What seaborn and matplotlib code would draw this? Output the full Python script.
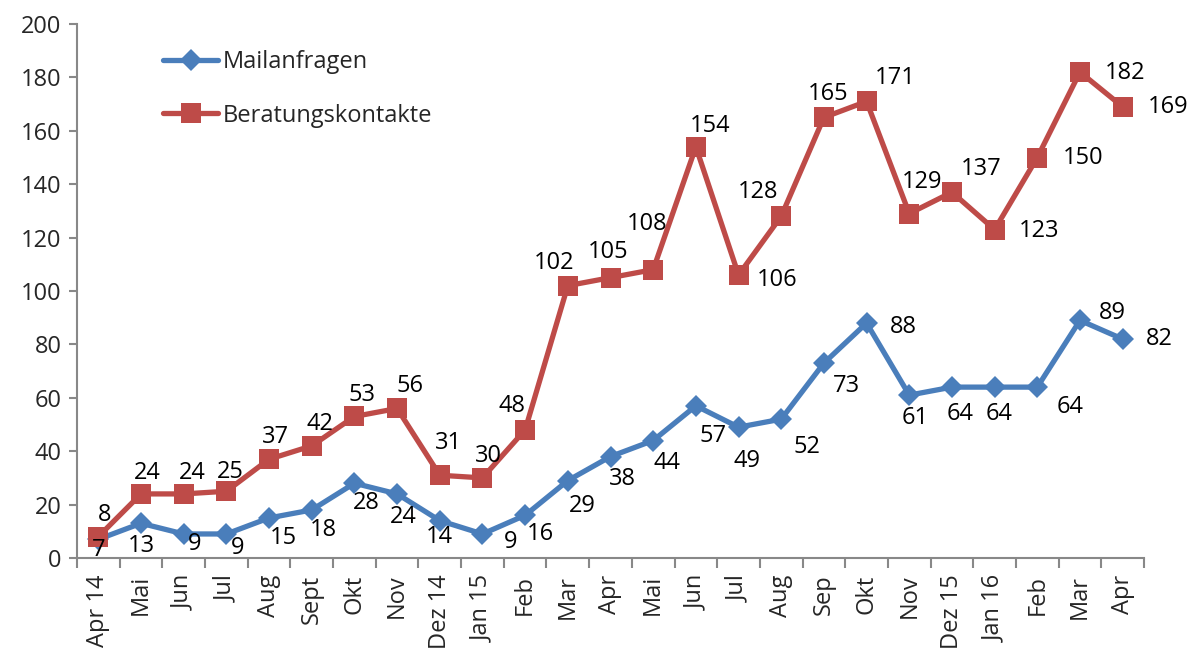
import matplotlib
matplotlib.use("Agg")
import matplotlib.pyplot as plt
import seaborn as sns
import pandas as pd
import numpy as np

categories = ["Apr 14", "Mai", "Jun", "Jul", "Aug", "Sept", "Okt", "Nov", "Dez 14", "Jan 15",
              "Feb", "Mar", "Apr", "Mai", "Jun", "Jul", "Aug", "Sep", "Okt", "Nov",
              "Dez 15", "Jan 16", "Feb", "Mar", "Apr"]
mail = [7, 13, 9, 9, 15, 18, 28, 24, 14, 9, 16, 29, 38, 44, 57, 49, 52, 73, 88, 61, 64, 64, 64, 89, 82]
berat = [8, 24, 24, 25, 37, 42, 53, 56, 31, 30, 48, 102, 105, 108, 154, 106, 128, 165, 171, 129,
         137, 123, 150, 182, 169]

# label offsets in pixels (dx, dy) relative to each point
mail_off = [(0, -11), (0, -23), (11, -10), (11, -14), (14, -20), (12, -20), (12, -20), (6, -23),
            (0, -16), (28, -8), (15, -19), (14, -25), (12, -22), (14, -22), (17, -30), (8, -34),
            (26, -28), (23, -23), (37, -4), (6, -23), (8, -27), (5, -27), (33, -20), (32, 7), (37, 0)]
berat_off = [(6, 22), (6, 21), (9, 21), (4, 19), (6, 22), (8, 22), (8, 21), (13, 22),
             (9, 32), (6, 22), (-13, 24), (-14, 23), (-2, 26), (-6, 46), (14, 21), (39, -5),
             (-23, 24), (4, 23), (29, 23), (13, 32), (29, 23), (44, -1), (46, 0), (45, -1), (45, 0)]

df = pd.DataFrame({"x": np.arange(len(categories)), "Mailanfragen": mail, "Beratungskontakte": berat})

sns.set_style("white")
plt.rcParams["font.family"] = ["Open Sans", "DejaVu Sans"]

fig = plt.figure(figsize=(11.99, 6.48), dpi=100)
ax = fig.add_axes([77 / 1199, (648 - 558) / 648, (1144 - 77) / 1199, (558 - 24) / 648])

blue = "#4A7EBB"
red = "#BE4B48"
sns.lineplot(data=df, x="x", y="Mailanfragen", ax=ax, color=blue, lw=3.8, marker="D",
             markersize=11.5, markeredgewidth=0, label="Mailanfragen")
sns.lineplot(data=df, x="x", y="Beratungskontakte", ax=ax, color=red, lw=3.8, marker="s",
             markersize=14, markeredgewidth=0, label="Beratungskontakte")

fs = 17
for i, (v, off) in enumerate(zip(mail, mail_off)):
    ax.annotate(str(v), (i, v), xytext=off, textcoords="offset pixels", ha="center", va="center",
                fontsize=fs, color="black")
for i, (v, off) in enumerate(zip(berat, berat_off)):
    ax.annotate(str(v), (i, v), xytext=off, textcoords="offset pixels", ha="center", va="center",
                fontsize=fs, color="black")

ax.set_xlim(-0.5, len(categories) - 0.5)
ax.set_ylim(0, 200)
ax.set_yticks(range(0, 201, 20))
ax.set_xticks(range(len(categories)))
ax.set_xticklabels(categories, rotation=90, fontsize=fs)
ax.set_xticks(np.arange(-0.5, len(categories), 1), minor=True)
ax.tick_params(axis="x", which="major", length=0, pad=12)
ax.tick_params(axis="x", which="minor", length=7, width=1.5, color="#888888", direction="out", bottom=True)
ax.tick_params(axis="y", length=6, width=1.5, color="#888888", direction="out", left=True, labelsize=fs, pad=5)
ax.set_xlabel("")
ax.set_ylabel("")
for s in ["top", "right"]:
    ax.spines[s].set_visible(False)
for s in ["left", "bottom"]:
    ax.spines[s].set_color("#888888")
    ax.spines[s].set_linewidth(1.5)

leg = ax.legend(loc="upper left", bbox_to_anchor=(0.081, 0.951), frameon=False, fontsize=fs,
                handlelength=2.3, handletextpad=0.2, labelspacing=1.25, borderpad=0, borderaxespad=0)

fig.savefig("out.png", dpi=100)
